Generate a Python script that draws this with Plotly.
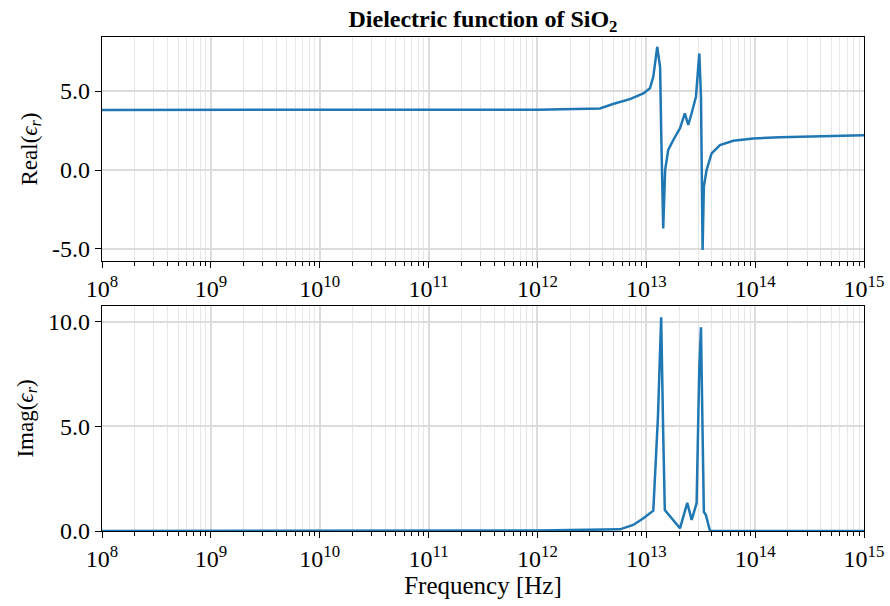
import plotly.graph_objects as go

# Frequency samples [Hz] and dielectric function of SiO2
freq_real = [1e8, 1e10, 1e12, 3.76e12, 4.94e12, 7.08e12, 9.4e12, 1.08e13, 1.16e13,
             1.26e13, 1.34e13, 1.37e13, 1.43e13, 1.49e13, 1.59e13, 1.77e13, 2.04e13,
             2.26e13, 2.43e13, 2.61e13, 2.86e13, 3.07e13, 3.18e13, 3.29e13, 3.38e13,
             3.58e13, 3.98e13, 4.75e13, 6.3e13, 9.6e13, 1.69e14, 1e15]
eps_real = [3.80, 3.80, 3.82, 3.90, 4.18, 4.49, 4.85, 5.17, 5.90,
            7.80, 6.50, 2.50, -3.70, 0.00, 1.27, 1.90, 2.64,
            3.59, 2.85, 3.59, 4.64, 7.38, 4.64, -5.06, -1.05,
            0.00, 1.05, 1.58, 1.85, 2.00, 2.07, 2.20]

freq_imag = [1e8, 1e12, 5.73e12, 7.59e12, 9.4e12, 1.16e13, 1.28e13, 1.37e13, 1.43e13,
             1.48e13, 2.04e13, 2.38e13, 2.61e13, 2.9e13, 3.07e13, 3.18e13, 3.29e13,
             3.38e13, 3.53e13, 3.85e13, 1e15]
eps_imag = [0.00, 0.02, 0.08, 0.29, 0.61, 0.97, 5.47, 10.22, 4.67,
            1.00, 0.13, 1.35, 0.53, 1.33, 7.86, 9.74, 4.67,
            0.92, 0.76, 0.00, 0.00]

x_exponents = list(range(8, 16))
x_tickvals = [10.0 ** e for e in x_exponents]
x_ticktext = [f"10<sup>{e}</sup>" for e in x_exponents]
x_minor = [m * 10.0 ** e for e in x_exponents[:-1] for m in range(2, 10)]

real_ticks = [-5.0, 0.0, 5.0]
imag_ticks = [0.0, 5.0, 10.0]

FONT = "Liberation Serif"
LINE = "#1f77b4"

fig = go.Figure()
fig.add_trace(go.Scatter(x=freq_real, y=eps_real, mode="lines",
                         line=dict(color=LINE, width=2.5), xaxis="x", yaxis="y",
                         showlegend=False))
fig.add_trace(go.Scatter(x=freq_imag, y=eps_imag, mode="lines",
                         line=dict(color=LINE, width=2.5), xaxis="x2", yaxis="y2",
                         showlegend=False))

xaxis_style = dict(
    type="log", range=[8, 15], automargin=False,
    tickmode="array", tickvals=x_tickvals, ticktext=x_ticktext,
    ticks="outside", ticklen=6, tickwidth=1.2, tickcolor="black",
    showline=True, linecolor="black", linewidth=1.2, mirror=True,
    showgrid=True, gridcolor="#dcdcdc", gridwidth=1.6,
    tickfont=dict(family=FONT, size=24, color="black"),
    minor=dict(tickmode="array", tickvals=x_minor, ticks="outside", ticklen=3.5,
               tickwidth=1, tickcolor="black", showgrid=True,
               gridcolor="#e6e6e6", gridwidth=1),
    zeroline=False,
)
yaxis_style = dict(
    tickmode="array", ticks="outside", ticklen=6, tickwidth=1.2, tickcolor="black",
    showline=True, linecolor="black", linewidth=1.2, mirror=True, automargin=False,
    showgrid=True, gridcolor="#dcdcdc", gridwidth=1.6, zeroline=False,
    tickfont=dict(family=FONT, size=24, color="black"),
)

fig.update_layout(
    width=890, height=606,
    margin=dict(l=102, r=26, t=37, b=75),
    paper_bgcolor="white", plot_bgcolor="white",
    font=dict(family=FONT, color="black"),
    title=dict(text="<b>Dielectric function of SiO<sub>2</sub></b>",
               x=(102 + 864) / 2 / 890, xanchor="center", y=0.97, yanchor="middle",
               font=dict(family=FONT, size=24, color="black")),
    xaxis=dict(xaxis_style, anchor="y"),
    yaxis=dict(yaxis_style, domain=[0.5466, 1.0], range=[-5.76, 8.42],
               tickvals=real_ticks, ticktext=["-5.0", "0.0", "5.0"],
               title=dict(text="Real(<i>ϵ<sub>r</sub></i>)",
                          font=dict(family=FONT, size=23), standoff=8)),
    xaxis2=dict(xaxis_style, anchor="y2",
                title=dict(text="Frequency [Hz]", font=dict(family=FONT, size=25),
                           standoff=4)),
    yaxis2=dict(yaxis_style, domain=[0.0, 0.4555], range=[0, 10.76],
                tickvals=imag_ticks, ticktext=["0.0", "5.0", "10.0"],
                title=dict(text="Imag(<i>ϵ<sub>r</sub></i>)",
                           font=dict(family=FONT, size=23), standoff=8)),
)

fig.write_html("out.html")
